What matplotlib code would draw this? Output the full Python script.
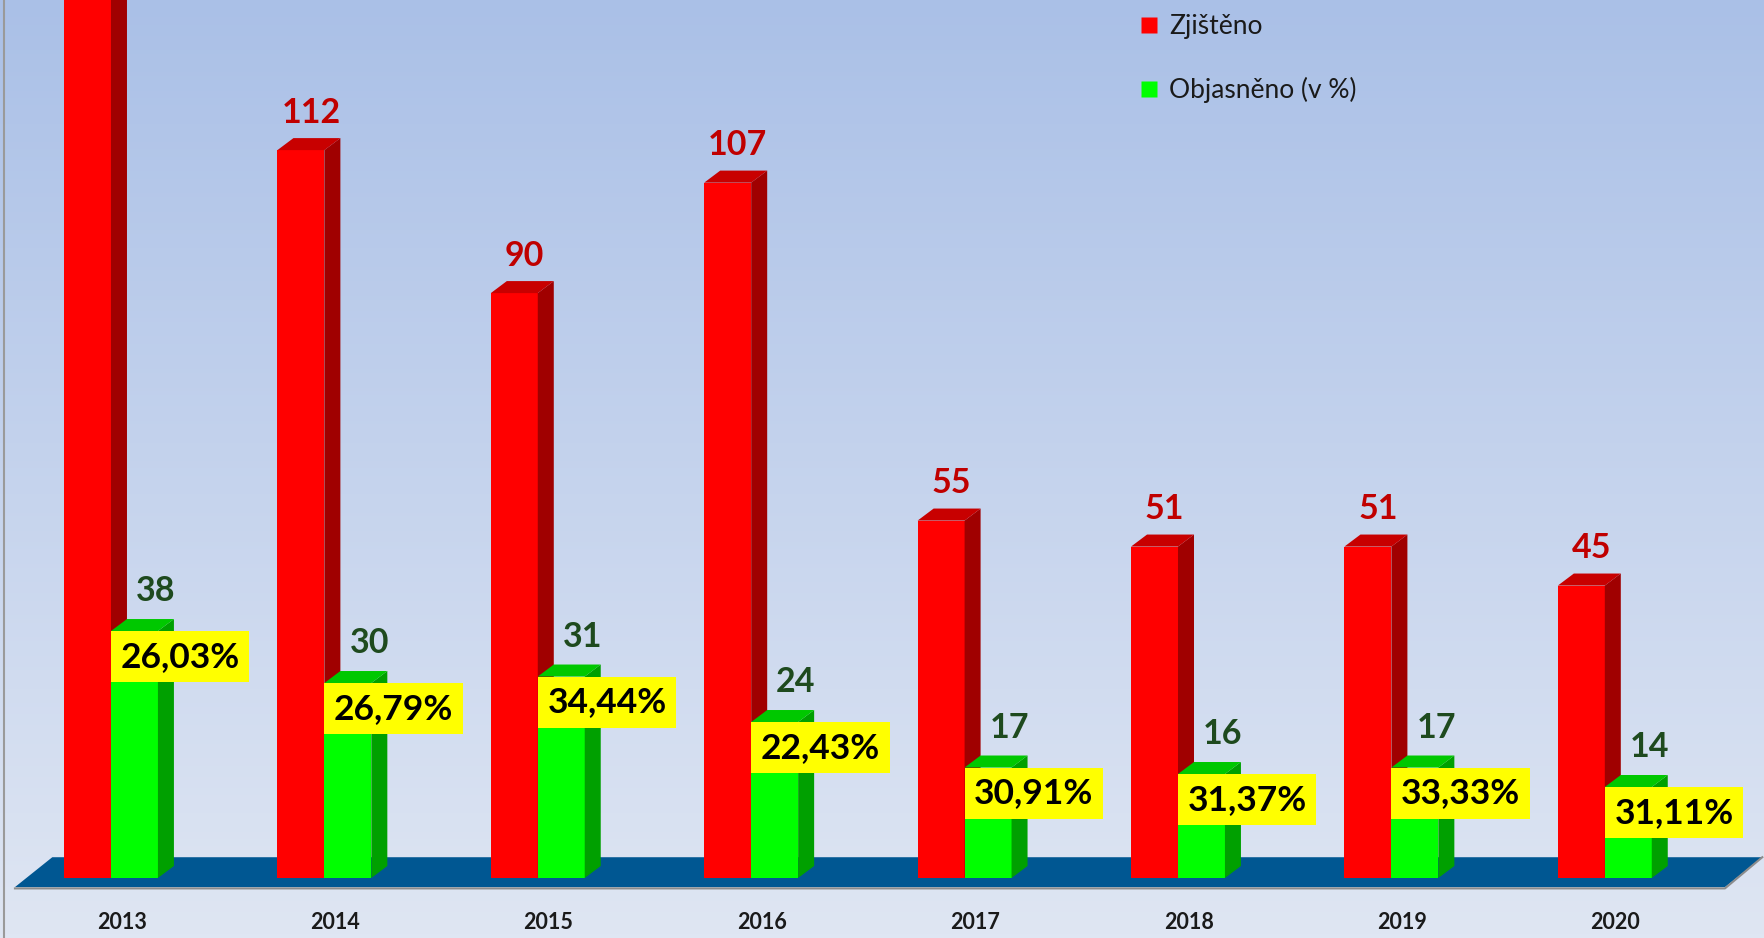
import numpy as np
import matplotlib.pyplot as plt
from matplotlib.patches import Polygon
from matplotlib.lines import Line2D
from matplotlib.colors import LinearSegmentedColormap

plt.rcParams['font.family'] = ['Lato', 'DejaVu Sans']

# data
years = ['2013', '2014', '2015', '2016', '2017', '2018', '2019', '2020']
zjisteno = [146, 112, 90, 107, 55, 51, 51, 45]
objasneno = [38, 30, 31, 24, 17, 16, 17, 14]
procenta = ['26,03%', '26,79%', '34,44%', '22,43%', '30,91%', '31,37%', '33,33%', '31,11%']

# bar geometry (in data units)
w = 0.22      # front face width of one bar
dx = 0.075    # depth offset, x
dy = 1.85     # depth offset, y


def bar3d(ax, x0, value, front, side, top, z):
    """Front face via ax.bar, plus side and top faces to fake the 3D look."""
    ax.bar(x0, value, width=w, align='edge', color=front, zorder=z)
    ax.add_patch(Polygon([(x0 + w, 0), (x0 + w + dx, dy),
                          (x0 + w + dx, value + dy), (x0 + w, value)],
                         closed=True, facecolor=side, edgecolor='none', zorder=z))
    ax.add_patch(Polygon([(x0, value), (x0 + dx, value + dy),
                          (x0 + w + dx, value + dy), (x0 + w, value)],
                         closed=True, facecolor=top, edgecolor='none', zorder=z))


fig = plt.figure(figsize=(17.64, 9.38), dpi=100)
ax = fig.add_axes([0, 0, 1, 1])
ax.set_xlim(-0.52, 7.746)
ax.set_ylim(-9.23, 135.1)
ax.axis('off')
ymax = ax.get_ylim()[1]

# background gradient
grad = np.linspace(0, 1, 256).reshape(-1, 1)
cmap = LinearSegmentedColormap.from_list('bg', ['#AAC0E7', '#DFE6F3'])
ax.imshow(grad, cmap=cmap, extent=[0, 1, 0, 1], transform=ax.transAxes,
          aspect='auto', zorder=0)
ax.axvline(-0.5, color='#9a9a9a', lw=1.5, zorder=1)

# floor
n = len(years)
fl_front, fl_back, fl_shift = -1.4, 3.2, 0.175
floor = Polygon([(-0.45, fl_front), (n - 0.437, fl_front),
                 (n - 0.437 + fl_shift, fl_back), (-0.45 + fl_shift, fl_back)],
                closed=True, facecolor='#005792', edgecolor='none', zorder=1)
ax.add_patch(floor)
ax.plot([-0.45, n - 0.437, n - 0.437 + fl_shift],
        [fl_front - 0.2, fl_front - 0.2, fl_back], color='#8c8c8c', lw=1.5, zorder=1)

x = np.arange(n)
for i in range(n):
    bar3d(ax, x[i] - w, zjisteno[i], '#FF0000', '#A00000', '#C80000', 2 + 2 * i)
    bar3d(ax, x[i], objasneno[i], '#00FF00', '#00A000', '#00C800', 3 + 2 * i)

    # value label only when it falls inside the plotting area
    ylab = zjisteno[i] + dy + 3.9
    if ylab + 3 < ymax:
        ax.text(x[i] - w + (w + dx) / 2 + 0.01, ylab, str(zjisteno[i]),
                ha='center', va='center', color='#C00000', fontsize=24.5,
                fontweight='bold', zorder=30)
    ax.text(x[i] + w - 0.01, objasneno[i] + dy + 4.3, str(objasneno[i]),
            ha='center', va='center', color='#1E4A1E', fontsize=24.5,
            fontweight='bold', zorder=30)
    ax.annotate(procenta[i], xy=(x[i], objasneno[i]), xytext=(6.9, -6.9),
                textcoords='offset points', ha='left', va='top',
                fontsize=25.5, fontweight='bold', color='black', zorder=31,
                bbox=dict(boxstyle='square,pad=0.27', facecolor='#FFFF00',
                          edgecolor='none'))
    ax.text(x[i] + 0.05, -6.9, years[i], ha='center', va='center',
            fontsize=15.5, fontweight='bold', color='#1a1a1a', zorder=30)

handles = [Line2D([], [], marker='s', linestyle='none', markersize=11,
                  markerfacecolor=c, markeredgecolor='none')
           for c in ['#FF0000', '#00FF00']]
ax.legend(handles, ['Zjištěno', 'Objasněno (v %)'], loc='upper left',
          bbox_to_anchor=(1116 / 1764, 1 + 10 / 938), frameon=False,
          fontsize=19, labelspacing=1.45, handlelength=0.7, handletextpad=0.4,
          labelcolor='#1a1a1a')

fig.savefig('out.png', dpi=100)
